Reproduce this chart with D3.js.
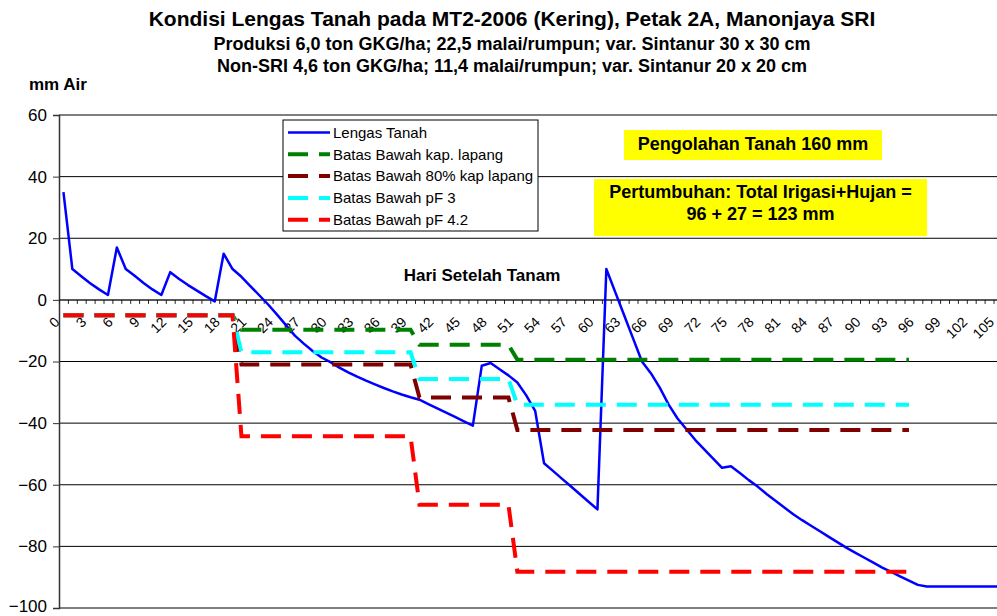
<!DOCTYPE html>
<html>
<head>
<meta charset="utf-8">
<title>Kondisi Lengas Tanah</title>
<script src="https://cdn.jsdelivr.net/npm/d3@7"></script>
<style>
  body { margin: 0; background: #fff; }
  svg { display: block; font-family: Arial, "Liberation Sans", sans-serif; }
</style>
</head>
<body>
<script>
"use strict";

// --- data ---

// Lengas Tanah, one value per day after planting (0..106), mm
const lengasTanah = [
  35, 10, 7.7, 5.4, 3.4, 1.6, 17, 10, 7.8, 5.5,
  3.4, 1.6, 9, 6.8, 4.8, 3, 1.2, -0.5, 15, 10,
  7.5, 4.5, 1.5, -1.5, -4.8, -8.2, -11.6, -14.2, -16.6, -18.7,
  -20.2, -22, -23.5, -24.9, -26.2, -27.4, -28.6, -29.7, -30.7, -31.6,
  -32.4, -33.8, -35.2, -36.6, -38, -39.4, -40.8, -21.4, -20.5, -22.5,
  -24.5, -26.8, -31, -36, -53, -55.5, -58, -60.5, -63, -65.5,
  -68, 10, 2.5, -5, -12.5, -20, -23.8, -28.5, -34, -38.5,
  -42, -45.5, -48.5, -51.5, -54.5, -54, -56.2, -58.5, -60.6, -63,
  -65.2, -67.4, -69.6, -71.5, -73.3, -75.1, -76.9, -78.7, -80.5, -82.1,
  -83.7, -85.3, -86.9, -88.3, -89.7, -91.1, -92.5, -93, -93, -93,
  -93, -93, -93, -93, -93, -93, -93
];

// step periods shared by the four "Batas Bawah" series: [first day, last day]
const batasPeriods = [[0, 19], [20, 39], [40, 50], [51, 95]];

// level of each series within those periods, mm
const batasKapLapang = [-5, -9.7, -14.6, -19.4];
const batas80KapLapang = [-5, -21, -31.7, -42.2];
const batasPF3 = [-5, -17, -25.7, -34];
const batasPF42 = [-5, -44.3, -66.5, -88.2];

const yTicks = [-100, -80, -60, -40, -20, 0, 20, 40, 60];
const xLabelDays = d3.range(0, 106, 3);

const seriesNames = [
  "Lengas Tanah",
  "Batas Bawah kap. lapang",
  "Batas Bawah 80% kap lapang",
  "Batas Bawah pF 3",
  "Batas Bawah pF 4.2"
];
const seriesColors = ["#0000ff", "#008000", "#800000", "#00ffff", "#ff0000"];

const titleLines = [
  "Kondisi Lengas Tanah pada MT2-2006 (Kering), Petak 2A, Manonjaya SRI",
  "Produksi 6,0 ton GKG/ha; 22,5 malai/rumpun; var. Sintanur 30 x 30 cm",
  "Non-SRI 4,6 ton GKG/ha; 11,4 malai/rumpun; var. Sintanur 20 x 20 cm"
];
const noteTanah = "Pengolahan Tanah 160 mm";
const noteTumbuh = ["Pertumbuhan: Total Irigasi+Hujan =", "96 + 27 = 123 mm"];

// --- layout ---
const width = 997;
const height = 616;
const dayStep = 8.9; // px per category on the original

const x = d3.scaleLinear()
  .domain([-0.5, 106.5])
  .range([59, 59 + 107 * dayStep]);

const y = d3.scaleLinear()
  .domain([-100, 60])
  .range([608, 115]);

/**
 * expand step levels into polyline points
 * @param {number[]} levels
 * @return {[number, number][]}
 */
function stepPoints(levels) {
  const pts = [];
  batasPeriods.forEach(([a, b], i) => {
    pts.push([a, levels[i]]);
    pts.push([b, levels[i]]);
  });
  return pts;
}

const svg = d3.select("body")
  .append("svg")
  .attr("width", width)
  .attr("height", height)
  .attr("viewBox", [0, 0, width, height]);

svg.append("rect").attr("width", width).attr("height", height).attr("fill", "#fff");

// gridlines
svg.append("g")
  .selectAll("line")
  .data(yTicks.filter((d) => d !== 0))
  .join("line")
  .attr("x1", x.range()[0])
  .attr("x2", x.range()[1])
  .attr("y1", (d) => y(d))
  .attr("y2", (d) => y(d))
  .attr("stroke", "#000")
  .attr("stroke-width", 1);

// y axis
const yAxis = svg.append("g")
  .attr("transform", `translate(${x.range()[0]},0)`)
  .call(d3.axisLeft(y).tickValues(yTicks).tickSize(6).tickPadding(6).tickFormat(d3.format("d")));
yAxis.select(".domain").attr("stroke", "#333").attr("stroke-width", 1.5);
yAxis.selectAll(".tick line").attr("stroke", "#333");
yAxis.selectAll("text")
  .attr("font-size", 17)
  .attr("font-family", "Arial, 'Liberation Sans', sans-serif")
  .attr("fill", "#000")
  .attr("dy", (d) => (d === -100 ? "0.2em" : "0.32em")); // bottom label sits on the edge

// x axis at y = 0: ticks at category boundaries
const xTickAxis = svg.append("g")
  .attr("transform", `translate(0,${y(0)})`)
  .call(d3.axisBottom(x).tickValues(d3.range(-0.5, 107, 1)).tickSize(4).tickFormat(""));
xTickAxis.select(".domain").attr("stroke", "#222").attr("stroke-width", 1.5).attr("d", `M${x.range()[0]},0H${x.range()[1]}`);
xTickAxis.selectAll(".tick line").attr("stroke", "#222");

// x labels, rotated
svg.append("g")
  .selectAll("text")
  .data(xLabelDays)
  .join("text")
  .attr("transform", (d) => `translate(${x(d) - 3},${y(0) + 23}) rotate(-45)`)
  .attr("text-anchor", "end")
  .attr("font-size", 14)
  .attr("fill", "#000")
  .text((d) => d);

svg.append("text")
  .attr("x", 482)
  .attr("y", 281)
  .attr("text-anchor", "middle")
  .attr("font-size", 17)
  .attr("font-weight", "bold")
  .text("Hari Setelah Tanam");

// series
const line = d3.line()
  .x((d) => x(d[0]))
  .y((d) => y(d[1]));

const plot = svg.append("g");

plot.append("path")
  .datum(lengasTanah.map((v, i) => [i, v]))
  .attr("fill", "none")
  .attr("stroke", seriesColors[0])
  .attr("stroke-width", 2.5)
  .attr("stroke-linejoin", "round")
  .attr("d", line);

[batasKapLapang, batas80KapLapang, batasPF3, batasPF42].forEach((levels, i) => {
  plot.append("path")
    .datum(stepPoints(levels))
    .attr("fill", "none")
    .attr("stroke", seriesColors[i + 1])
    .attr("stroke-width", 4)
    .attr("stroke-dasharray", "20,11")
    .attr("d", line);
});

// legend
const legend = svg.append("g").attr("transform", "translate(283,120)");
legend.append("rect")
  .attr("width", 255)
  .attr("height", 111)
  .attr("fill", "#fff")
  .attr("stroke", "#000")
  .attr("stroke-width", 1);

const entry = legend.selectAll("g")
  .data(seriesNames)
  .join("g")
  .attr("transform", (d, i) => `translate(0,${12.5 + i * 21.8})`);

entry.append("line")
  .attr("x1", 5)
  .attr("x2", 47)
  .attr("stroke", (d, i) => seriesColors[i])
  .attr("stroke-width", (d, i) => (i === 0 ? 2.5 : 4))
  .attr("stroke-dasharray", (d, i) => (i === 0 ? null : "20,11"));

entry.append("text")
  .attr("x", 50)
  .attr("dy", "0.35em")
  .attr("font-size", 15)
  .text((d) => d);

// yellow notes
svg.append("rect")
  .attr("x", 624).attr("y", 130).attr("width", 258).attr("height", 30)
  .attr("fill", "#ffff00");
svg.append("text")
  .attr("x", 753).attr("y", 150)
  .attr("text-anchor", "middle")
  .attr("font-size", 18)
  .attr("font-weight", "bold")
  .text(noteTanah);

svg.append("rect")
  .attr("x", 594).attr("y", 179).attr("width", 333).attr("height", 57)
  .attr("fill", "#ffff00");
svg.append("g")
  .selectAll("text")
  .data(noteTumbuh)
  .join("text")
  .attr("x", 760.5)
  .attr("y", (d, i) => 197.5 + i * 22.5)
  .attr("text-anchor", "middle")
  .attr("font-size", 18)
  .attr("font-weight", "bold")
  .text((d) => d);

// titles
svg.append("g")
  .selectAll("text")
  .data(titleLines)
  .join("text")
  .attr("x", 512)
  .attr("y", (d, i) => [26, 50, 72][i])
  .attr("text-anchor", "middle")
  .attr("font-size", (d, i) => (i === 0 ? 21 : 18))
  .attr("font-weight", "bold")
  .text((d) => d);

svg.append("text")
  .attr("x", 29)
  .attr("y", 90)
  .attr("font-size", 17)
  .attr("font-weight", "bold")
  .text("mm Air");
</script>
</body>
</html>
